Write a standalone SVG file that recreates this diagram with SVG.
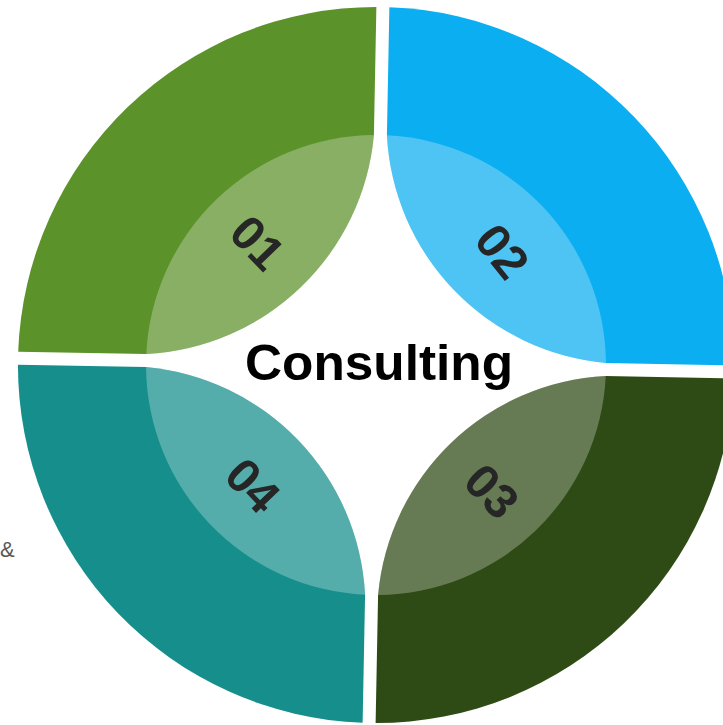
<svg xmlns="http://www.w3.org/2000/svg" xmlns:xlink="http://www.w3.org/1999/xlink" width="723" height="725" viewBox="0 0 723 725">
  <style>
    .ov { fill: #ffffff; fill-opacity: 0.27; }
    .lbl { font-family: "Liberation Sans", Arial, sans-serif; font-weight: bold; font-size: 48px; fill: #262626; text-anchor: middle; dominant-baseline: central; }
    .title { font-family: "Liberation Sans", Arial, sans-serif; font-weight: bold; font-size: 50px; fill: #000000; text-anchor: middle; }
    .amp { font-family: "Liberation Sans", Arial, sans-serif; font-size: 22px; fill: #595959; }
  </style>
  <defs>
    <path id="seg" d="M -6.5,-358 A 358 358 0 0 0 -358,-6.5 L -229.9,-6.5 A 241 241 0 0 0 -6.5,-229.9 Z"/>
    <path id="ovl" d="M -229.9,-6.5 A 230 230 0 0 1 -6.5,-229.9 A 241 241 0 0 1 -229.9,-6.5 Z"/>
  </defs>
  <rect width="723" height="725" fill="#ffffff"/>
  <text class="amp" x="0" y="557">&amp;</text>
  <g transform="translate(376,365) rotate(1.1)">
    <g id="node-01">
      <use xlink:href="#seg" href="#seg" fill="#5C922A"/>
      <use xlink:href="#ovl" href="#ovl" class="ov"/>
      <text class="lbl" transform="translate(-121,-120) rotate(45)">01</text>
    </g>
    <g id="node-02">
      <use xlink:href="#seg" href="#seg" fill="#0BAEF0" transform="rotate(90)"/>
      <use xlink:href="#ovl" href="#ovl" class="ov" transform="rotate(90)"/>
      <text class="lbl" transform="translate(124,-116) rotate(50)">02</text>
    </g>
    <g id="node-03">
      <use xlink:href="#seg" href="#seg" fill="#2E4B15" transform="rotate(180)"/>
      <use xlink:href="#ovl" href="#ovl" class="ov" transform="rotate(180)"/>
      <text class="lbl" transform="translate(118,124) rotate(45)">03</text>
    </g>
    <g id="node-04">
      <use xlink:href="#seg" href="#seg" fill="#168F8C" transform="rotate(270)"/>
      <use xlink:href="#ovl" href="#ovl" class="ov" transform="rotate(270)"/>
      <text class="lbl" transform="translate(-121,123) rotate(45)">04</text>
    </g>
  </g>
  <g id="node-center">
    <text class="title" x="379" y="380" textLength="268" lengthAdjust="spacingAndGlyphs">Consulting</text>
  </g>
</svg>
